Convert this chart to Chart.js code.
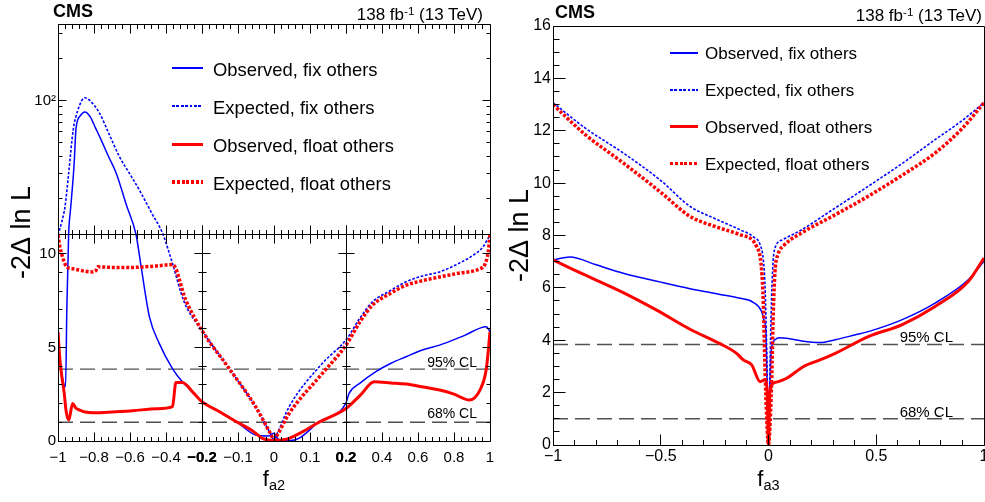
<!DOCTYPE html>
<html>
<head>
<meta charset="utf-8">
<script src="https://cdn.jsdelivr.net/npm/chart.js@4.4.1/dist/chart.umd.min.js"></script>
<style>
html,body{margin:0;padding:0;background:#fff;}
body{width:985px;height:502px;position:relative;overflow:hidden;font-family:"Liberation Sans",Arial,Helvetica,sans-serif;color:#000;}
canvas{position:absolute;top:0;}
.t{position:absolute;white-space:nowrap;line-height:1;}
.ls{position:absolute;}
</style>
</head>
<body>
<canvas id="cL" width="500" height="502" style="left:0"></canvas>
<canvas id="cR" width="493" height="502" style="left:492px"></canvas>
<div id="ov"></div>
<script>
// ================= DATA =================
// Left panel: f_a2 scan
const fa2_obsFix_x = [-1, -0.99, -0.978, -0.966, -0.958, -0.951, -0.941, -0.93, -0.92, -0.91, -0.9, -0.875, -0.851, -0.82, -0.79, -0.768, -0.72, -0.676, -0.62, -0.566, -0.538, -0.492, -0.437, -0.364, -0.309, -0.25, -0.2, -0.15, -0.102, -0.051, -0.014, 0, 0.014, 0.042, 0.069, 0.125, 0.2, 0.217, 0.28, 0.366, 0.45, 0.534, 0.62, 0.72, 0.85, 0.98, 1];
const fa2_obsFix_y = [5.83, 4.4, 3.5, 3.0, 2.9, 7.0, 11, 17, 24, 36, 63, 78, 82.6, 76, 63, 55, 40, 30.2, 18, 11, 9.3, 6.63, 5.2, 3.87, 3.16, 2.6, 2.1, 1.55, 1.0, 0.32, 0.27, 0.41, 0.05, 0.02, 0.14, 1.03, 2.04, 2.54, 3.1, 3.7, 4.15, 4.5, 4.85, 5.12, 5.6, 6.1, 5.83];

const fa2_expFix_x = [-1, -0.98, -0.961, -0.94, -0.916, -0.89, -0.851, -0.82, -0.768, -0.72, -0.658, -0.6, -0.548, -0.48, -0.419, -0.364, -0.3, -0.2, -0.125, -0.051, -0.01, 0, 0.01, 0.042, 0.134, 0.2, 0.28, 0.347, 0.45, 0.534, 0.62, 0.72, 0.82, 0.906, 0.96, 1];
const fa2_expFix_y = [11, 13.5, 17.5, 31, 61, 85, 104.5, 99, 80.6, 59, 39.6, 29.8, 23, 15.8, 11.3, 9.48, 7.45, 5.9, 3.88, 1.83, 0.4, 0.08, 0.45, 1.83, 4.14, 5.4, 6.6, 7.43, 8.05, 8.5, 8.8, 9.03, 9.45, 9.92, 10.35, 11.0];

const fa2_obsFloat_x = [-1, -0.99, -0.978, -0.966, -0.955, -0.94, -0.919, -0.9, -0.879, -0.85, -0.805, -0.7, -0.585, -0.45, -0.364, -0.345, -0.309, -0.25, -0.2, -0.15, -0.102, -0.06, -0.032, -0.01, 0, 0.02, 0.042, 0.08, 0.125, 0.2, 0.28, 0.357, 0.45, 0.534, 0.62, 0.72, 0.8, 0.885, 0.944, 0.98, 1];
const fa2_obsFloat_y = [5.83, 4.4, 3.4, 2.6, 1.6, 1.12, 2.0, 1.75, 1.65, 1.55, 1.51, 1.55, 1.62, 1.72, 1.83, 3.13, 3.13, 2.6, 2.1, 1.55, 1.0, 0.55, 0.14, 0.04, 0.02, 0.06, 0.14, 0.5, 1.0, 1.74, 2.45, 3.16, 3.1, 3.04, 2.9, 2.72, 2.5, 2.19, 2.72, 3.88, 5.83];

const fa2_expFloat_x = [-1, -0.99, -0.98, -0.965, -0.952, -0.92, -0.879, -0.84, -0.805, -0.79, -0.778, -0.7, -0.585, -0.45, -0.364, -0.29, -0.2, -0.125, -0.051, -0.01, 0, 0.01, 0.042, 0.134, 0.2, 0.28, 0.347, 0.45, 0.534, 0.62, 0.72, 0.82, 0.944, 0.97, 0.99, 1];
const fa2_expFloat_y = [11, 10.4, 10, 9.55, 9.3, 9.2, 9.12, 9.05, 9.03, 9.1, 9.3, 9.27, 9.27, 9.35, 9.42, 7.52, 5.9, 3.88, 1.83, 0.4, 0.08, 0.35, 1.47, 3.6, 5.12, 6.4, 7.25, 7.9, 8.32, 8.55, 8.76, 8.95, 9.2, 9.4, 10.1, 11.0];

// Right panel: f_a3 scan
const fa3_obsFix_x = [-1, -0.921, -0.8, -0.674, -0.5, -0.364, -0.225, -0.132, -0.071, -0.032, -0.02, -0.012, -0.006, 0, 0.006, 0.012, 0.02, 0.03, 0.05, 0.084, 0.15, 0.239, 0.31, 0.4, 0.463, 0.618, 0.773, 0.927, 1];
const fa3_obsFix_y = [7.07, 7.18, 6.88, 6.56, 6.22, 5.97, 5.75, 5.6, 5.45, 5.1, 4.75, 4.3, 2.0, 0.3, 2.0, 3.5, 3.9, 4.02, 4.1, 4.08, 3.98, 3.91, 4.02, 4.2, 4.33, 4.78, 5.42, 6.31, 7.01];

const fa3_expFix_x = [-1, -0.85, -0.674, -0.5, -0.364, -0.25, -0.132, -0.07, -0.039, -0.024, -0.016, -0.008, 0, 0.008, 0.016, 0.022, 0.03, 0.069, 0.154, 0.3, 0.463, 0.62, 0.773, 0.9, 1];
const fa3_expFix_y = [13.07, 12.1, 11.15, 10.1, 9.11, 8.65, 8.22, 7.95, 7.65, 7.07, 6.05, 3.5, 0, 3.5, 6.05, 7.07, 7.52, 7.85, 8.22, 9.0, 9.88, 10.75, 11.66, 12.4, 13.07];

const fa3_obsFloat_x = [-1, -0.906, -0.8, -0.674, -0.519, -0.364, -0.225, -0.148, -0.117, -0.078, -0.039, -0.016, -0.006, 0, 0.006, 0.022, 0.045, 0.084, 0.161, 0.239, 0.31, 0.463, 0.618, 0.773, 0.927, 1];
const fa3_obsFloat_y = [7.07, 6.7, 6.3, 5.82, 5.15, 4.42, 3.87, 3.5, 3.25, 3.06, 2.42, 2.49, 2.0, 0.0, 1.98, 2.36, 2.42, 2.55, 2.99, 3.25, 3.5, 4.14, 4.59, 5.29, 6.24, 7.14];

const fa3_expFloat_x = [-1, -0.85, -0.674, -0.5, -0.364, -0.25, -0.132, -0.055, -0.032, -0.024, -0.016, -0.008, 0, 0.008, 0.016, 0.022, 0.03, 0.045, 0.069, 0.154, 0.3, 0.463, 0.62, 0.773, 0.9, 1];
const fa3_expFloat_y = [13.0, 11.85, 10.77, 9.65, 8.73, 8.35, 8.03, 7.58, 6.69, 5.42, 2.87, 0.96, 0, 0.96, 2.87, 5.0, 6.6, 7.3, 7.6, 8.1, 8.75, 9.5, 10.3, 11.15, 12.1, 13.07];

// confidence levels
const CL_VALUES = [3.84, 1.0];
const CL_TEXT = ['95% CL', '68% CL'];

// legend labels
const LEGEND_TEXT = ['Observed, fix others', 'Expected, fix others', 'Observed, float others', 'Expected, float others'];

// tick labels
const FA2_X_LABELED = [-1, -0.8, -0.6, -0.4, -0.2, -0.1, 0, 0.1, 0.2, 0.4, 0.6, 0.8, 1];
const FA2_Y_LABELS = {0: '0', 5: '5', 10: '10', 100: '10\u00B2'};
const FA3_X_LABELED = [-1, -0.5, 0, 0.5, 1];
const FA3_Y_LABELED = [0, 2, 4, 6, 8, 10, 12, 14, 16];

const Y_TITLE = '-2\u0394 ln L';

// ================= AXIS GEOMETRY =================
const X_BREAKS = [-1, -0.2, 0.2, 1];   // left panel x: three equal-width segments
const Y_SPLIT = 11, Y_TOP = 350;       // left panel y: linear 0..11, log 11..350
const Y_SPLIT_FRAC = 206 / 417;

function segToDec(v) {
  const e = X_BREAKS;
  if (v <= e[1]) return ((v - e[0]) / (e[1] - e[0])) / 3;
  if (v <= e[2]) return (1 + (v - e[1]) / (e[2] - e[1])) / 3;
  return (2 + (v - e[2]) / (e[3] - e[2])) / 3;
}
function decToSeg(d) {
  const e = X_BREAKS, u = d * 3;
  if (u <= 1) return e[0] + u * (e[1] - e[0]);
  if (u <= 2) return e[1] + (u - 1) * (e[2] - e[1]);
  return e[2] + (u - 2) * (e[3] - e[2]);
}
function splitToDec(v) {
  if (v <= Y_SPLIT) return Math.max(v, 0) / Y_SPLIT * Y_SPLIT_FRAC;
  return Y_SPLIT_FRAC + (Math.log10(v) - Math.log10(Y_SPLIT)) / (Math.log10(Y_TOP) - Math.log10(Y_SPLIT)) * (1 - Y_SPLIT_FRAC);
}
function decToSplit(d) {
  if (d <= Y_SPLIT_FRAC) return d / Y_SPLIT_FRAC * Y_SPLIT;
  return Math.pow(10, Math.log10(Y_SPLIT) + (d - Y_SPLIT_FRAC) / (1 - Y_SPLIT_FRAC) * (Math.log10(Y_TOP) - Math.log10(Y_SPLIT)));
}

const LS = Chart.LinearScale;
class SegmentedX extends LS {
  getPixelForValue(v) { if (v === null || v === undefined || isNaN(v)) return NaN; return this.getPixelForDecimal(segToDec(v)); }
  getValueForPixel(p) { return decToSeg(this.getDecimalForPixel(p)); }
}
SegmentedX.id = 'segmentedX';
SegmentedX.defaults = LS.defaults;
class SplitLogY extends LS {
  getPixelForValue(v) { if (v === null || v === undefined || isNaN(v)) return NaN; return this.getPixelForDecimal(splitToDec(v)); }
  getValueForPixel(p) { return decToSplit(this.getDecimalForPixel(p)); }
}
SplitLogY.id = 'splitLogY';
SplitLogY.defaults = LS.defaults;
Chart.register(SegmentedX, SplitLogY);

Chart.defaults.font.family = "'Liberation Sans', Arial, Helvetica, sans-serif";
Chart.defaults.color = '#000';

// ================= TICKS =================
const near = (a, b) => Math.abs(a - b) < 1e-9;
const fmt = v => (v < 0 ? '\u2212' : '') + String(+Math.abs(v).toFixed(4));
function stepTicks(lo, hi, step, labeled, labelFn) {
  const out = [], n = Math.round((hi - lo) / step);
  for (let i = 0; i <= n; i++) {
    const v = +(lo + i * step).toFixed(6);
    const big = labeled.some(m => near(m, v));
    out.push({value: v, big, label: big ? labelFn(v) : ''});
  }
  return out;
}
const FA2_X_TICKS = [].concat(
  stepTicks(-1, -0.2, 0.04, FA2_X_LABELED, fmt),
  stepTicks(-0.2, 0.2, 0.02, FA2_X_LABELED, fmt),
  stepTicks(0.2, 1, 0.04, FA2_X_LABELED, fmt)
).map(t => Object.assign(t, {bold: near(Math.abs(t.value), 0.2)}));
const FA2_Y_TICKS = [];
for (let v = 0; v <= 10; v++) FA2_Y_TICKS.push({value: v, big: v % 5 === 0, label: FA2_Y_LABELS[v] || ''});
[20, 30, 40, 50, 60, 70, 80, 90, 100, 200, 300].forEach(v => FA2_Y_TICKS.push({value: v, big: v === 100, label: FA2_Y_LABELS[v] || ''}));
const FA3_X_TICKS = stepTicks(-1, 1, 0.1, FA3_X_LABELED, fmt);
const FA3_Y_TICKS = stepTicks(0, 16, 0.5, FA3_Y_LABELED, v => String(v));

// ================= STYLES =================
const STYLE = {
  obsFix:   {color: '#0000ff', width: 1.5, dash: []},
  expFix:   {color: '#0000ff', width: 1.6, dash: [2.7, 1.7]},
  obsFloat: {color: '#ff0000', width: 3.0, dash: []},
  expFloat: {color: '#ff0000', width: 3.5, dash: [3, 1.8]}
};
const LEGEND_KEYS = ['obsFix', 'expFix', 'obsFloat', 'expFloat'];

function pts(xs, ys) { return xs.map((x, i) => ({x, y: ys[i]})); }
function curve(key, xs, ys) {
  const s = STYLE[key];
  return {label: key, data: pts(xs, ys), borderColor: s.color, borderWidth: s.width, borderDash: s.dash,
    pointRadius: 0, fill: false, cubicInterpolationMode: 'monotone', borderJoinStyle: 'round'};
}
function clLine(v) {
  return {label: 'CL', data: [{x: -1, y: v}, {x: 1, y: v}], borderColor: '#505050', borderWidth: 1.4,
    borderDash: [15, 7], pointRadius: 0, fill: false, tension: 0};
}

function crisp(v) { return Math.round(v - 0.5) + 0.5; }
function seg(ctx, x1, y1, x2, y2) { ctx.beginPath(); ctx.moveTo(x1, y1); ctx.lineTo(x2, y2); ctx.stroke(); }

const framePluginL = {
  id: 'frameL',
  afterDatasetsDraw(chart) {
    const ctx = chart.ctx, a = chart.chartArea, xs = chart.scales.x, ys = chart.scales.y;
    const L = crisp(a.left), R = crisp(a.right), T = crisp(a.top), B = crisp(a.bottom);
    const yd = crisp(ys.getPixelForValue(Y_SPLIT));
    const xd1 = crisp(xs.getPixelForValue(X_BREAKS[1])), xd2 = crisp(xs.getPixelForValue(X_BREAKS[2]));
    ctx.save();
    ctx.strokeStyle = '#000'; ctx.lineWidth = 1; ctx.setLineDash([]);
    seg(ctx, L, T, R, T); seg(ctx, R, T, R, B); seg(ctx, L, B, R, B); seg(ctx, L, T, L, B);
    seg(ctx, L, yd, R, yd); seg(ctx, xd1, yd, xd1, B); seg(ctx, xd2, yd, xd2, B);
    for (const t of xs.ticks) {
      const px = crisp(xs.getPixelForValue(t.value)); const len = t.big ? 9 : 4.5;
      seg(ctx, px, B, px, B - len); seg(ctx, px, T, px, T + len); seg(ctx, px, yd - len, px, yd + len);
    }
    for (const t of ys.ticks) {
      const py = crisp(ys.getPixelForValue(t.value)); const len = t.big ? 8 : 4;
      seg(ctx, L, py, L + len, py); seg(ctx, R, py, R - len, py);
      if (t.value <= Y_SPLIT) { seg(ctx, xd1 - len, py, xd1 + len, py); seg(ctx, xd2 - len, py, xd2 + len, py); }
    }
    ctx.restore();
  }
};
const framePluginR = {
  id: 'frameR',
  afterDatasetsDraw(chart) {
    const ctx = chart.ctx, a = chart.chartArea, xs = chart.scales.x, ys = chart.scales.y;
    const L = crisp(a.left), R = crisp(a.right), T = crisp(a.top), B = crisp(a.bottom);
    ctx.save();
    ctx.strokeStyle = '#000'; ctx.lineWidth = 1; ctx.setLineDash([]);
    seg(ctx, L, T, R, T); seg(ctx, R, T, R, B); seg(ctx, L, B, R, B); seg(ctx, L, T, L, B);
    for (const t of xs.ticks) {
      const px = crisp(xs.getPixelForValue(t.value)); const len = t.big ? 11 : 5.5;
      seg(ctx, px, B, px, B - len);
    }
    for (const t of ys.ticks) {
      const py = crisp(ys.getPixelForValue(t.value)); const len = t.big ? 12 : 6;
      seg(ctx, L, py, L + len, py);
    }
    ctx.restore();
  }
};

const tickLabelCb = (v, i, ticks) => ticks[i].label;

// ================= LEFT CHART =================
new Chart(document.getElementById('cL'), {
  type: 'line',
  data: {datasets: [
    curve('obsFloat', fa2_obsFloat_x, fa2_obsFloat_y),
    curve('expFloat', fa2_expFloat_x, fa2_expFloat_y),
    curve('obsFix', fa2_obsFix_x, fa2_obsFix_y),
    curve('expFix', fa2_expFix_x, fa2_expFix_y),
    clLine(CL_VALUES[0]), clLine(CL_VALUES[1])
  ]},
  options: {
    responsive: false, animation: false, devicePixelRatio: 1,
    layout: {padding: {top: 24, right: 10, bottom: 0, left: 0}},
    plugins: {legend: {display: false}, tooltip: {enabled: false}},
    events: [],
    scales: {
      x: {type: 'segmentedX', min: -1, max: 1,
        grid: {display: false, drawTicks: false}, border: {display: false},
        afterBuildTicks: s => { s.ticks = FA2_X_TICKS.map(t => Object.assign({}, t)); },
        afterFit: s => { s.height = 61; s.paddingLeft = 0; s.paddingRight = 0; },
        ticks: {autoSkip: false, maxRotation: 0, minRotation: 0, padding: 8, callback: tickLabelCb,
          font: c => ({size: 15, weight: (c.tick && c.tick.bold) ? 'bold' : 'normal'})}},
      y: {type: 'splitLogY', min: 0, max: Y_TOP,
        grid: {display: false, drawTicks: false}, border: {display: false},
        afterBuildTicks: s => { s.ticks = FA2_Y_TICKS.map(t => Object.assign({}, t)); },
        afterFit: s => { s.width = 58; s.paddingTop = 0; s.paddingBottom = 0; },
        ticks: {autoSkip: false, padding: 2, callback: tickLabelCb, font: {size: 15}},
        title: {display: true, text: Y_TITLE, font: {size: 27}, padding: {top: 6, bottom: 0}}}
    }
  },
  plugins: [framePluginL]
});

// ================= RIGHT CHART =================
new Chart(document.getElementById('cR'), {
  type: 'line',
  data: {datasets: [
    curve('obsFloat', fa3_obsFloat_x, fa3_obsFloat_y),
    curve('expFloat', fa3_expFloat_x, fa3_expFloat_y),
    curve('obsFix', fa3_obsFix_x, fa3_obsFix_y),
    curve('expFix', fa3_expFix_x, fa3_expFix_y),
    clLine(CL_VALUES[0]), clLine(CL_VALUES[1])
  ]},
  options: {
    responsive: false, animation: false, devicePixelRatio: 1,
    layout: {padding: {top: 26, right: 1, bottom: 0, left: 0}},
    plugins: {legend: {display: false}, tooltip: {enabled: false}},
    events: [],
    scales: {
      x: {type: 'linear', min: -1, max: 1,
        grid: {display: false, drawTicks: false}, border: {display: false},
        afterBuildTicks: s => { s.ticks = FA3_X_TICKS.map(t => Object.assign({}, t)); },
        afterFit: s => { s.height = 57; s.paddingLeft = 0; s.paddingRight = 0; },
        ticks: {autoSkip: false, maxRotation: 0, minRotation: 0, padding: 2, callback: tickLabelCb, font: {size: 16}}},
      y: {type: 'linear', min: 0, max: 16,
        grid: {display: false, drawTicks: false}, border: {display: false},
        afterBuildTicks: s => { s.ticks = FA3_Y_TICKS.map(t => Object.assign({}, t)); },
        afterFit: s => { s.width = 61; s.paddingTop = 0; s.paddingBottom = 0; },
        ticks: {autoSkip: false, padding: 2, callback: tickLabelCb, font: {size: 16}},
        title: {display: true, text: Y_TITLE, font: {size: 27}, padding: {top: 12.5, bottom: 0}}}
    }
  },
  plugins: [framePluginR]
});

// ================= TEXT OVERLAYS =================
const ov = document.getElementById('ov');
function addText(html, x, baseline, size, align, extra) {
  const d = document.createElement('div');
  d.className = 't';
  d.innerHTML = html;
  d.style.fontSize = size + 'px';
  d.style.top = (baseline - 0.8465 * size) + 'px';
  d.style.left = x + 'px';
  if (align === 'right') d.style.transform = 'translateX(-100%)';
  if (align === 'center') d.style.transform = 'translateX(-50%)';
  if (extra) d.style.cssText += extra;
  ov.appendChild(d);
}
function addSample(key, x, y, w) {
  const s = STYLE[key];
  const d = document.createElement('div');
  d.className = 'ls';
  d.style.left = x + 'px'; d.style.top = (y - s.width / 2) + 'px';
  d.style.width = w + 'px'; d.style.height = s.width + 'px';
  if (s.dash.length) {
    const a = s.dash[0], b = s.dash[0] + s.dash[1];
    d.style.background = `repeating-linear-gradient(90deg, ${s.color} 0px, ${s.color} ${a}px, transparent ${a}px, transparent ${b}px)`;
  } else d.style.background = s.color;
  ov.appendChild(d);
}
const LUMI = '138 fb<span style="position:relative;top:-0.42em;font-size:0.68em">-1</span> (13 TeV)';
function fTitle(sub) { return 'f<span style="position:relative;top:0.28em;font-size:0.66em">' + sub + '</span>'; }

// left panel
addText('CMS', 53, 17, 18, 'left', 'font-weight:bold;');
addText(LUMI, 483, 20.7, 17, 'right');
[76.7, 114.5, 153, 190.5].forEach((b, i) => { addSample(LEGEND_KEYS[i], 172, b - 8.5, 31); addText(LEGEND_TEXT[i], 213, b, 18.4, 'left'); });
addText(CL_TEXT[0], 477, 366.5, 14, 'right');
addText(CL_TEXT[1], 477, 418, 14, 'right');
addText(fTitle('a2'), 274, 487, 22, 'center');

// right panel
addText('CMS', 555, 18, 18, 'left', 'font-weight:bold;');
addText(LUMI, 982, 21.5, 17, 'right');
[59.5, 96.5, 133.3, 170].forEach((b, i) => { addSample(LEGEND_KEYS[i], 670, b - 6.5, 28); addText(LEGEND_TEXT[i], 705, b, 17, 'left'); });
addText(CL_TEXT[0], 953, 342, 15, 'right');
addText(CL_TEXT[1], 953, 417, 15, 'right');
addText(fTitle('a3'), 768.5, 487, 22, 'center');
</script>
</body>
</html>
